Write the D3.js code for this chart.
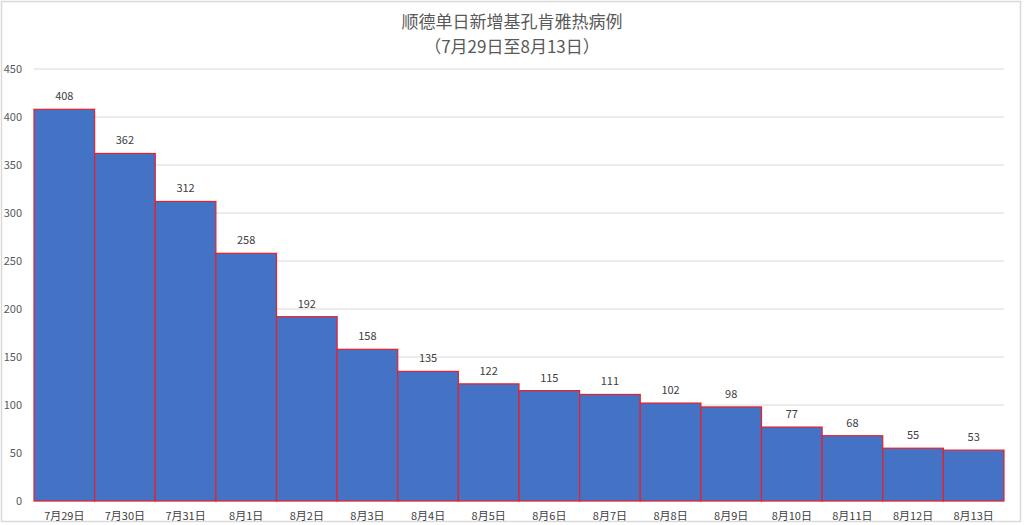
<!DOCTYPE html>
<html><head><meta charset="utf-8">
<script src="https://cdn.jsdelivr.net/npm/d3@7"></script>
<style>
html,body{margin:0;padding:0;background:#fff;}
svg{display:block;font-family:"Noto Sans CJK SC","Noto Sans",sans-serif;}
</style></head>
<body><svg id="c" width="1024" height="525"></svg>
<script>
const categories = ["7月29日","7月30日","7月31日","8月1日","8月2日","8月3日","8月4日","8月5日","8月6日","8月7日","8月8日","8月9日","8月10日","8月11日","8月12日","8月13日"];
const values = [408,362,312,258,192,158,135,122,115,111,102,98,77,68,55,53];
const yTicks = [0,50,100,150,200,250,300,350,400,450];
const titleLines = ["顺德单日新增基孔肯雅热病例","（7月29日至8月13日）"];

const svg = d3.select("#c");
svg.append("rect").attr("x",1.5).attr("y",1.5).attr("width",1019).attr("height",520)
  .attr("fill","#fff").attr("stroke","#d9d9d9").attr("stroke-width",1.5);

const x = d3.scaleBand().domain(categories).range([34,1004]).padding(0);
const y = d3.scaleLinear().domain([0,450]).range([501,69]);

const g = svg.append("g");
g.selectAll("line.grid").data(yTicks).join("line")
  .attr("x1",34).attr("x2",1004).attr("y1",d=>y(d)).attr("y2",d=>y(d))
  .attr("stroke","#d9d9d9").attr("stroke-width",1);

g.selectAll("text.yl").data(yTicks).join("text")
  .attr("x",22).attr("y",d=>y(d)).attr("dy","0.35em").attr("text-anchor","end")
  .attr("font-size",11).attr("fill","#595959").text(d=>d);

g.selectAll("rect.bar").data(values).join("rect")
  .attr("x",(d,i)=>x(categories[i])).attr("width",x.bandwidth())
  .attr("y",d=>y(d)).attr("height",d=>y(0)-y(d))
  .attr("fill","#4472c4").attr("stroke","#e8202a").attr("stroke-width",1.2);

g.selectAll("text.vl").data(values).join("text")
  .attr("x",(d,i)=>x(categories[i])+x.bandwidth()/2).attr("y",d=>y(d)-9)
  .attr("text-anchor","middle").attr("font-size",11).attr("fill","#404040").text(d=>d);

g.selectAll("text.xl").data(categories).join("text")
  .attr("x",d=>x(d)+x.bandwidth()/2).attr("y",516).attr("dy","0.35em")
  .attr("text-anchor","middle").attr("font-size",11).attr("fill","#404040").text(d=>d);

svg.append("text").attr("x",512).attr("y",22).attr("dy","0.35em").attr("text-anchor","middle")
  .attr("font-size",17).attr("fill","#595959").text(titleLines[0]);
svg.append("text").attr("x",512).attr("y",47).attr("dy","0.35em").attr("text-anchor","middle")
  .attr("font-size",17).attr("fill","#595959").text(titleLines[1]);
</script></body></html>
